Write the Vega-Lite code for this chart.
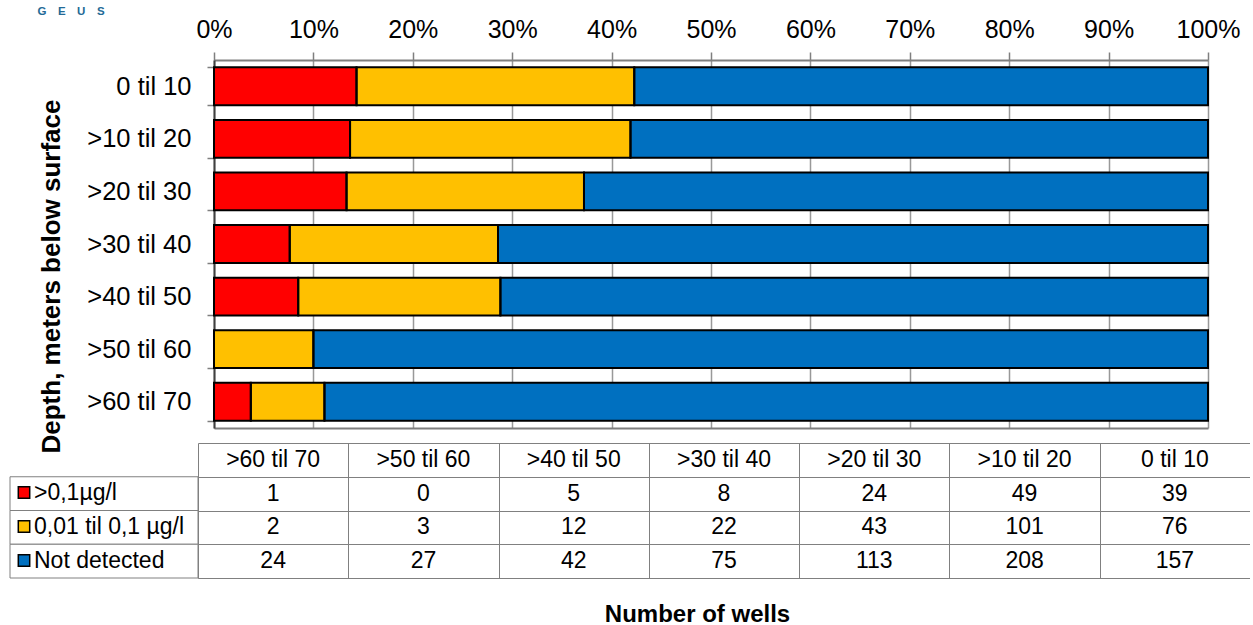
{
  "$schema": "https://vega.github.io/schema/vega-lite/v6.json",
  "background": "white",
  "padding": {"left": 9, "top": 5, "right": 0, "bottom": 0},
  "config": {
    "font": "Liberation Sans",
    "view": {"stroke": null},
    "axis": {"labelColor": "black", "titleColor": "black", "labelFont": "Liberation Sans", "titleFont": "Liberation Sans"},
    "axisBand": {"tickBand": "extent"}
  },
  "title": {"text": "G\u2003E\u2003U\u2003S", "anchor": "start", "fontSize": 11.5, "fontWeight": "bold", "color": "#236a96", "dx": 28, "offset": 0},
  "datasets": {
    "wells": [
      {"depth": "0 til 10", "series": ">0,1µg/l", "k": 1, "n": 39},
      {"depth": "0 til 10", "series": "0,01 til 0,1 µg/l", "k": 2, "n": 76},
      {"depth": "0 til 10", "series": "Not detected", "k": 3, "n": 157},
      {"depth": ">10 til 20", "series": ">0,1µg/l", "k": 1, "n": 49},
      {"depth": ">10 til 20", "series": "0,01 til 0,1 µg/l", "k": 2, "n": 101},
      {"depth": ">10 til 20", "series": "Not detected", "k": 3, "n": 208},
      {"depth": ">20 til 30", "series": ">0,1µg/l", "k": 1, "n": 24},
      {"depth": ">20 til 30", "series": "0,01 til 0,1 µg/l", "k": 2, "n": 43},
      {"depth": ">20 til 30", "series": "Not detected", "k": 3, "n": 113},
      {"depth": ">30 til 40", "series": ">0,1µg/l", "k": 1, "n": 8},
      {"depth": ">30 til 40", "series": "0,01 til 0,1 µg/l", "k": 2, "n": 22},
      {"depth": ">30 til 40", "series": "Not detected", "k": 3, "n": 75},
      {"depth": ">40 til 50", "series": ">0,1µg/l", "k": 1, "n": 5},
      {"depth": ">40 til 50", "series": "0,01 til 0,1 µg/l", "k": 2, "n": 12},
      {"depth": ">40 til 50", "series": "Not detected", "k": 3, "n": 42},
      {"depth": ">50 til 60", "series": ">0,1µg/l", "k": 1, "n": 0},
      {"depth": ">50 til 60", "series": "0,01 til 0,1 µg/l", "k": 2, "n": 3},
      {"depth": ">50 til 60", "series": "Not detected", "k": 3, "n": 27},
      {"depth": ">60 til 70", "series": ">0,1µg/l", "k": 1, "n": 1},
      {"depth": ">60 til 70", "series": "0,01 til 0,1 µg/l", "k": 2, "n": 2},
      {"depth": ">60 til 70", "series": "Not detected", "k": 3, "n": 24}
    ]
  },
  "spacing": 15,
  "bounds": "flush",
  "vconcat": [
    {
      "width": 1198,
      "height": 368,
      "data": {"name": "wells"},
      "encoding": {
        "y": {
          "field": "depth", "type": "nominal",
          "sort": ["0 til 10", ">10 til 20", ">20 til 30", ">30 til 40", ">40 til 50", ">50 til 60", ">60 til 70"],
          "scale": {"paddingInner": 0.28, "paddingOuter": 0.14},
          "axis": {
            "title": "Depth, meters below surface", "titleFontSize": 26, "titleFontWeight": "bold",
            "titleX": -150, "titleY": 216,
            "offset": -204,
            "labelFontSize": 25.5, "labelPadding": 16,
            "tickSize": 7, "tickColor": "#7f7f7f", "tickWidth": 1.5, "tickBand": "extent",
            "domainColor": "#404040", "domainWidth": 2
          }
        },
        "order": {"field": "k", "type": "quantitative"}
      },
      "layer": [
        {
          "mark": {"type": "bar", "strokeWidth": 0},
          "encoding": {
            "x": {
              "field": "n", "type": "quantitative", "stack": "normalize",
              "scale": {"range": [204, 1198]},
              "axis": {
                "orient": "top", "title": null, "format": ".0%",
                "values": [0, 0.1, 0.2, 0.3, 0.4, 0.5, 0.6, 0.7, 0.8, 0.9, 1],
                "labelFontSize": 25, "labelPadding": 10, "labelFlush": false,
                "tickSize": 8, "tickColor": "#7f7f7f", "tickWidth": 1.5,
                "domainColor": "#7f7f7f", "domainWidth": 2,
                "grid": true, "gridColor": "#999999", "gridWidth": 1.5
              }
            },
            "color": {
              "field": "series", "type": "nominal",
              "scale": {"domain": [">0,1µg/l", "0,01 til 0,1 µg/l", "Not detected"], "range": ["#ff0000", "#ffc000", "#0070c0"]},
              "legend": {
                "title": null, "orient": "none", "legendX": 2.5, "legendY": 421,
                "symbolType": "square", "symbolSize": 130, "symbolStrokeColor": "black", "symbolStrokeWidth": 1.5, "symbolOpacity": 1,
                "labelFontSize": 23, "labelFont": "Liberation Sans", "labelColor": "black", "labelOffset": -1.5,
                "rowPadding": 10, "padding": 0
              }
            }
          }
        },
        {
          "mark": {"type": "bar", "filled": false, "stroke": "black", "strokeWidth": 2},
          "encoding": {
            "x": {
              "field": "n", "type": "quantitative", "stack": "normalize",
              "axis": {
                "orient": "bottom", "title": null, "labels": false, "ticks": false, "grid": false,
                "domainColor": "#7f7f7f", "domainWidth": 2
              }
            },
            "detail": {"field": "series", "type": "nominal"}
          }
        }
      ],
      "resolve": {"axis": {"x": "independent"}}
    },
    {
      "spacing": 0,
      "bounds": "flush",
      "hconcat": [
        {
          "width": 188,
          "height": 135,
          "data": {"name": "wells"},
          "transform": [{"filter": "datum.depth === '0 til 10'"}],
          "mark": {"type": "bar", "fill": "white", "stroke": "#808080", "strokeWidth": 1},
          "encoding": {
            "y": {
              "field": "series", "type": "nominal",
              "scale": {"domain": ["depth", ">0,1µg/l", "0,01 til 0,1 µg/l", "Not detected"], "paddingInner": 0, "paddingOuter": 0},
              "axis": null
            }
          }
        },
        {
          "width": 1052,
          "height": 135,
          "data": {"name": "wells"},
          "encoding": {
            "x": {
              "field": "depth", "type": "nominal",
              "sort": [">60 til 70", ">50 til 60", ">40 til 50", ">30 til 40", ">20 til 30", ">10 til 20", "0 til 10"],
              "scale": {"paddingInner": 0, "paddingOuter": 0},
              "axis": {
                "orient": "bottom", "labels": false, "ticks": false, "tickBand": "extent",
                "domainColor": "#808080", "domainWidth": 1,
                "grid": true, "gridColor": "#808080", "gridWidth": 1,
                "gridOpacity": {"condition": {"test": "datum.value === '0 til 10'", "value": 0}, "value": 1},
                "title": "Number of wells", "titleFontSize": 24, "titleFontWeight": "bold",
                "titlePadding": 24, "titleX": 499
              }
            }
          },
          "layer": [
            {
              "transform": [{"filter": "datum.k === 1"}],
              "mark": {"type": "text", "fontSize": 23, "color": "black"},
              "encoding": {
                "y": {
                  "datum": "depth", "type": "nominal",
                  "scale": {"domain": ["depth", ">0,1µg/l", "0,01 til 0,1 µg/l", "Not detected"], "paddingInner": 0, "paddingOuter": 0},
                  "axis": {"title": null, "labels": false, "ticks": false, "domain": false, "tickBand": "extent", "grid": true, "gridColor": "#808080", "gridWidth": 1}
                },
                "text": {"field": "depth", "type": "nominal"}
              }
            },
            {
              "mark": {"type": "text", "fontSize": 23, "color": "black"},
              "encoding": {
                "y": {
                  "field": "series", "type": "nominal",
                  "axis": {"title": null, "labels": false, "ticks": false, "domain": false, "tickBand": "extent", "grid": true, "gridColor": "#808080", "gridWidth": 1}
                },
                "text": {"field": "n", "type": "quantitative"}
              }
            }
          ]
        }
      ]
    }
  ]
}
